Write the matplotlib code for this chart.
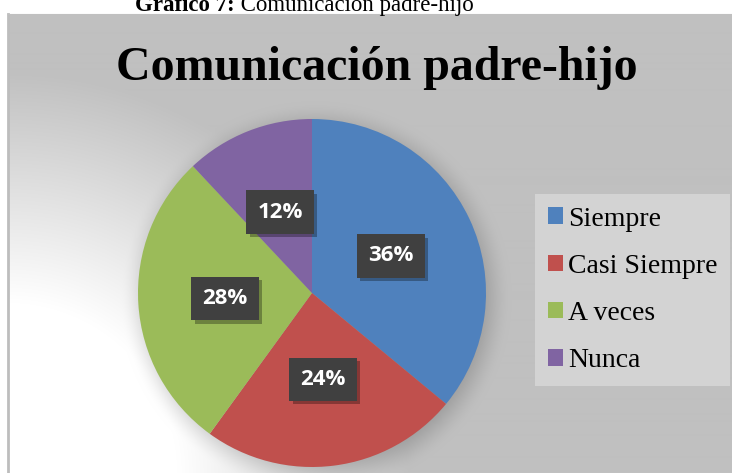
import numpy as np
import matplotlib
matplotlib.use("Agg")
import matplotlib.pyplot as plt
import matplotlib.patheffects as pe

categorias = ["Siempre", "Casi Siempre", "A veces", "Nunca"]
porcentajes = [36, 24, 28, 12]
colores = ["#4F81BD", "#C0504D", "#9BBB59", "#8064A2"]
titulo = "Comunicación padre-hijo"
encabezado_neg = "Gráfico 7:"
encabezado = " Comunicación padre-hijo"

W, H = 732, 473
fig = plt.figure(figsize=(W / 100, H / 100), dpi=100)
fig.patch.set_facecolor("white")

# fondo: degradado radial blanco -> gris desde la esquina inferior izquierda
x0, y0 = 8, 14
yy, xx = np.mgrid[y0:H, x0:W] + 0.5
r = np.hypot(xx - 8, yy - H)
t = np.clip((r - 170) / 230, 0, 1)
gris = 1 - t * (1 - 192 / 255)
# sombra difusa del pastel
d = np.hypot(xx - 316, yy - 298)
s = np.clip((174 + 22 - d) / 44, 0, 1)
s = s * s * (3 - 2 * s)
gris = gris * (1 - 0.22 * s)
img = np.dstack([gris] * 3)

bg = fig.add_axes([x0 / W, 0, (W - x0) / W, (H - y0) / H])
bg.imshow(img, aspect="auto", interpolation="bilinear")
bg.set_xticks([])
bg.set_yticks([])
bg.spines["right"].set_visible(False)
bg.spines["bottom"].set_visible(False)
bg.spines["left"].set_color("#bdbdbd")
bg.spines["left"].set_linewidth(2)
bg.spines["top"].set_color("#c0c0c0")

# pastel
R, cx, cy = 174, 312, 293
ax = fig.add_axes([(cx - R) / W, (H - cy - R) / H, 2 * R / W, 2 * R / H])
ax.patch.set_alpha(0)
wedges, textos, autotextos = ax.pie(
    porcentajes, colors=colores, startangle=90, counterclock=False,
    autopct="%1.0f%%", pctdistance=0.5,
    textprops=dict(color="white", fontweight="bold", family="Open Sans", fontsize=16))
ax.set_xlim(-1, 1)
ax.set_ylim(-1, 1)

for at in autotextos:
    at.set_bbox(dict(boxstyle="square,pad=0.5", fc="#404040", ec="none", lw=0))
    at.get_bbox_patch().set_path_effects([
        pe.SimplePatchShadow(offset=(2.5, -2.5), shadow_rgbFace="black", alpha=0.3),
        pe.Normal()])

ax.legend(wedges, categorias, loc="upper left",
          bbox_to_anchor=(535 / W, 1 - 194 / H), bbox_transform=fig.transFigure,
          borderaxespad=0, frameon=True, fancybox=False, facecolor="#d3d3d3",
          edgecolor="none", framealpha=1,
          prop=dict(family="Liberation Serif", size=20),
          handlelength=0.55, handleheight=0.55, handletextpad=0.2,
          labelspacing=0.8, borderpad=0.45)

# titulo
fig.text(377 / W, 1 - 80 / H, titulo, ha="center", va="baseline",
         fontsize=34.5, fontweight="bold", family="Liberation Serif")

# encabezado cortado arriba
t1 = fig.text(135 / W, 1 - 11 / H, encabezado_neg, ha="left", va="baseline",
              fontsize=16.5, fontweight="bold", family="Liberation Serif")
ax.annotate(encabezado, xy=(1, 0), xycoords=t1, ha="left", va="bottom",
            fontsize=16.5, family="Liberation Serif", annotation_clip=False)

fig.savefig("out.png", dpi=100)
